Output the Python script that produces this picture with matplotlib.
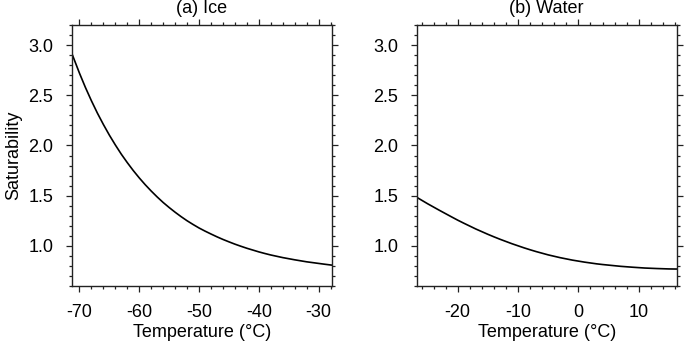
import matplotlib
matplotlib.use("Agg")
import matplotlib.pyplot as plt
from matplotlib.ticker import MultipleLocator

plt.rcParams["font.family"] = ["Liberation Sans", "DejaVu Sans"]

# (a) ice: temperature (deg C) and saturability
ice_temp = [-71.3, -70, -69, -68, -67, -66, -65, -64, -63, -62, -61, -60,
            -59, -58, -57, -56, -55, -54, -53, -52, -51, -50, -49, -48,
            -47, -46, -45, -44, -43, -42, -41, -40, -39, -38, -37, -36,
            -35, -34, -33, -32, -31, -30, -29, -27.8]
ice_sat = [2.92, 2.72, 2.577, 2.445, 2.322, 2.209, 2.103, 2.005, 1.913,
           1.829, 1.75, 1.677, 1.609, 1.546, 1.487, 1.432, 1.382, 1.335,
           1.291, 1.25, 1.213, 1.178, 1.147, 1.118, 1.09, 1.064, 1.04,
           1.017, 0.996, 0.976, 0.958, 0.94, 0.924, 0.909, 0.896, 0.883,
           0.872, 0.861, 0.851, 0.841, 0.833, 0.825, 0.817, 0.808]

# (b) water
water_temp = [-26.8, -25, -23, -21, -20, -19, -17, -15, -14, -13, -11, -9,
              -8, -7, -5, -3, -2, -1, 1, 3, 4, 5, 7, 9, 10, 11, 13, 15, 16.3]
water_sat = [1.484, 1.420, 1.353, 1.288, 1.256, 1.226, 1.168, 1.115, 1.090,
             1.066, 1.021, 0.980, 0.961, 0.943, 0.910, 0.882, 0.870, 0.858,
             0.838, 0.821, 0.814, 0.808, 0.796, 0.787, 0.783, 0.779, 0.774,
             0.770, 0.769]

panels = [
    ("(a) Ice", ice_temp, ice_sat, (-71.3, -27.8), 0.1047),
    ("(b) Water", water_temp, water_sat, (-26.8, 16.3), 0.6083),
]

fig = plt.figure(figsize=(6.85, 3.47), dpi=100)

for i, (title, temp, sat, xlim, left) in enumerate(panels):
    ax = fig.add_axes((left, 0.1758, 0.3796, 0.752))
    ax.plot(temp, sat, color="black", linewidth=1.2)
    ax.set_xlim(*xlim)
    ax.set_ylim(0.6, 3.2)
    ax.xaxis.set_major_locator(MultipleLocator(10))
    ax.xaxis.set_minor_locator(MultipleLocator(2))
    ax.yaxis.set_major_locator(MultipleLocator(0.5))
    ax.yaxis.set_minor_locator(MultipleLocator(0.1))
    ax.yaxis.set_major_formatter(lambda v, pos: f"{v:.1f}")
    ax.xaxis.set_major_formatter(lambda v, pos: f"{v:.0f}")
    ax.tick_params(which="both", direction="out", top=True, right=True,
                   labelsize=13, width=0.9, color="#222222")
    ax.tick_params(which="major", length=4.3)
    ax.tick_params(axis="x", which="major", pad=9)
    ax.tick_params(axis="y", which="major", pad=9)
    ax.tick_params(which="minor", length=2.2)
    for spine in ax.spines.values():
        spine.set_linewidth(1.0)
        spine.set_color("#222222")
    ax.set_title(title, fontsize=13, pad=8.5)
    ax.set_xlabel("Temperature (°C)", fontsize=13, labelpad=2)
    if i == 0:
        ax.set_ylabel("Saturability", fontsize=13, labelpad=4)

fig.savefig("out.png", dpi=100, facecolor="white")
